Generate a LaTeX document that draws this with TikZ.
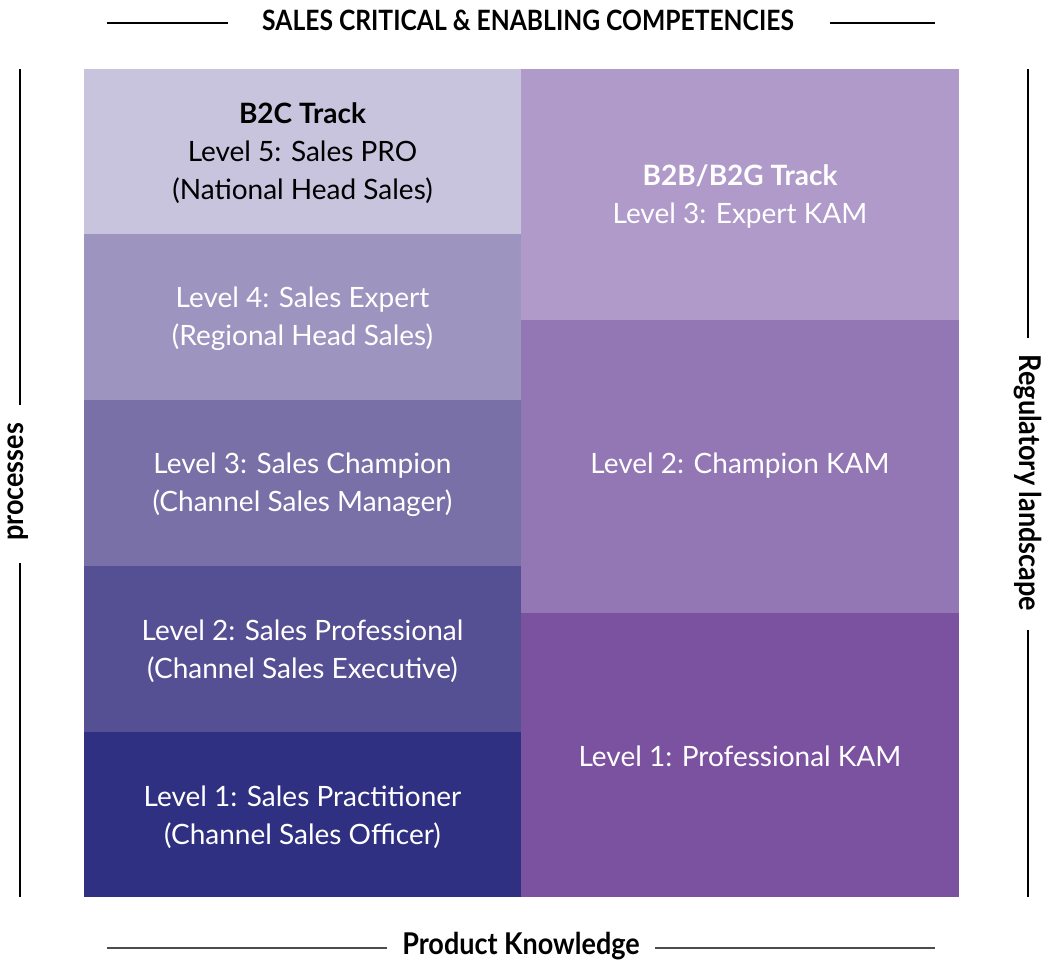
\documentclass[tikz,border=0pt]{standalone}
\usepackage{fontspec}
\setmainfont{Lato}
\usepackage{graphicx}
\definecolor{lA}{HTML}{C8C4DD}
\definecolor{lB}{HTML}{9D94BF}
\definecolor{lC}{HTML}{7870A7}
\definecolor{lD}{HTML}{554F93}
\definecolor{lE}{HTML}{303083}
\definecolor{rA}{HTML}{B09ACA}
\definecolor{rB}{HTML}{9376B4}
\definecolor{rC}{HTML}{7B529F}
\tikzset{
  cell/.style={inner sep=0pt, align=center, font=\fontsize{28}{38}\selectfont},
  rule/.style={line width=1.3pt, black},
  lbl/.style={inner sep=0pt, font=\fontsize{28}{32}\selectfont\bfseries},
  lblb/.style={inner sep=0pt, font=\fontsize{30}{34}\selectfont\bfseries}
}
\begin{document}
\begin{tikzpicture}[x=1pt,y=-1pt]
\useasboundingbox (0,0) rectangle (1045,961);
% cells
\fill[lA] (84,69) rectangle (521,234);
\fill[lB] (84,234) rectangle (521,400);
\fill[lC] (84,400) rectangle (521,566);
\fill[lD] (84,566) rectangle (521,732);
\fill[lE] (84,732) rectangle (521,897);
\fill[rA] (521,69) rectangle (959,320);
\fill[rB] (521,320) rectangle (959,613);
\fill[rC] (521,613) rectangle (959,897);
% texts
\node[cell, text=black] (l5) at (302.5,153) {{\bfseries B2C Track}\\Level 5: Sales PRO\\(National Head Sales)};
\node[cell, text=white] (l4) at (302.5,319) {Level 4: Sales Expert\\(Regional Head Sales)};
\node[cell, text=white] (l3) at (302.5,485) {Level 3: Sales Champion\\(Channel Sales Manager)};
\node[cell, text=white] (l2) at (302.5,651) {Level 2: Sales Professional\\(Channel Sales Executive)};
\node[cell, text=white] (l1) at (302.5,817) {Level 1: Sales Practitioner\\(Channel Sales Officer)};
\node[cell, text=white] (r3) at (740,196) {{\bfseries B2B/B2G Track}\\Level 3: Expert KAM};
\node[cell, text=white] (r2) at (740,466) {Level 2: Champion KAM};
\node[cell, text=white] (r1) at (740,756) {Level 1: Professional KAM};
% frame labels
\node[lbl] (top) at (528,20) {\scalebox{0.88}[1]{SALES CRITICAL \& ENABLING COMPETENCIES}};
\node[lblb] (bot) at (521,946) {\scalebox{0.9}[1]{Product Knowledge}};
\node[lblb, rotate=90] (lft) at (18,482) {\scalebox{0.9}[1]{processes}};
\node[lblb, rotate=-90] (rgt) at (1028,483) {\scalebox{0.9}[1]{Regulatory landscape}};
\coordinate (t1) at (107,23); \coordinate (t2) at (228,23);
\coordinate (t3) at (830,23); \coordinate (t4) at (935,23);
\draw[rule] (t1) -- (t2); \draw[rule] (t3) -- (t4);
\coordinate (b1) at (107,948); \coordinate (b2) at (387,948);
\coordinate (b3) at (655,948); \coordinate (b4) at (935,948);
\draw[rule, black!70] (b1) -- (b2); \draw[rule, black!70] (b3) -- (b4);
\coordinate (p1) at (20,69); \coordinate (p2) at (20,405);
\coordinate (p3) at (20,563); \coordinate (p4) at (20,897);
\draw[rule] (p1) -- (p2); \draw[rule] (p3) -- (p4);
\coordinate (q1) at (1028,69); \coordinate (q2) at (1028,338);
\coordinate (q3) at (1028,630); \coordinate (q4) at (1028,897);
\draw[rule] (q1) -- (q2); \draw[rule] (q3) -- (q4);
\end{tikzpicture}
\end{document}
